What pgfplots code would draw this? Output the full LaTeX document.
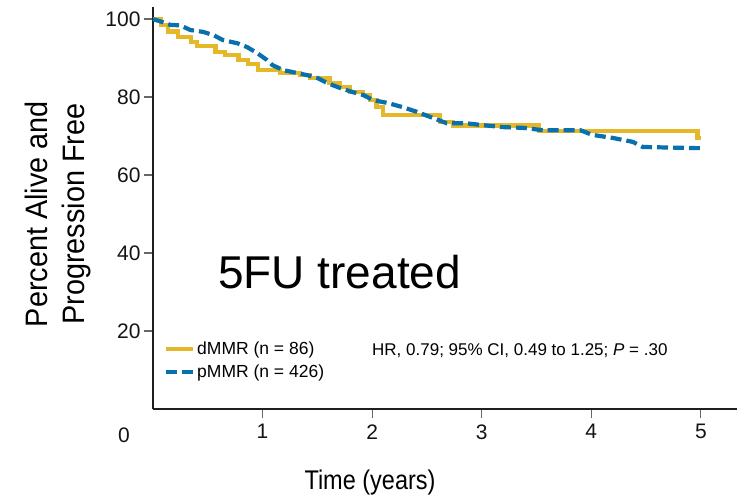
\documentclass[border=0pt]{standalone}
\usepackage{fontspec}
\setmainfont{Liberation Sans}
\usepackage{graphicx}
\usepackage{pgfplots}
\pgfplotsset{compat=1.18}
\definecolor{dgold}{RGB}{228,184,40}
\definecolor{pblue}{RGB}{8,112,172}

\begin{document}
\begin{tikzpicture}
\begin{axis}[
  name=ax,
  scale only axis, width=584pt, height=402pt,
  xmin=0, xmax=5.33, ymin=0, ymax=103.1,
  axis x line=bottom, axis y line=left,
  axis line style={-, line width=1.9pt, color=black!88},
  xtick={1,2,3,4,5}, ytick={20,40,60,80,100},
  tick align=outside, major tick length=9pt,
  tick style={line width=1.2pt, color=black!60},
  /pgf/number format/assume math mode=true,
  ticklabel style={font=\fontsize{21}{21}\selectfont, color=black!92},
  xticklabel style={yshift=-3pt},
  clip=false,
  xlabel={\scalebox{0.87}[1]{Time (years)}},
  xlabel style={at={(axis description cs:0.3716,-0.199)}, anchor=base, font=\fontsize{27}{27}\selectfont, inner sep=0pt},
  ylabel={\scalebox{0.93}[1]{Percent Alive and}\\\scalebox{0.93}[1]{Progression Free}},
  ylabel style={at={(axis description cs:-0.1620,0.485)}, anchor=center, align=center, font=\fontsize{31}{37}\selectfont, rotate=0},
  legend image code/.code={\draw[#1] (0pt,0pt) -- (27pt,0pt);},
  legend cell align=left,
  legend style={at={(axis description cs:0.0185,0.172)}, anchor=north west, draw=none, fill=none, inner sep=0pt, font=\fontsize{17.5}{17.5}\selectfont, row sep=5pt},
]
\addplot[const plot, color=dgold, line width=4.2pt, mark=none] coordinates {
(0,100) (0.07,98.5) (0.14,96.8) (0.23,95.4) (0.35,94.1) (0.40,93.2) (0.57,91.5)
(0.66,90.8) (0.78,89.5) (0.87,88.5) (0.96,87.0) (1.16,86.2) (1.34,85.6) (1.43,84.9)
(1.61,83.6) (1.71,82.6) (1.80,81.3) (1.92,80.5) (1.98,79.2) (2.04,77.4) (2.10,75.3)
(2.62,73.6) (2.74,72.7) (3.52,71.2) (4.97,69.6) (5.0,69.6)
};
\addlegendentry{dMMR (n = 86)}
\addplot[color=pblue, line width=4.2pt, dash pattern=on 11pt off 5pt, mark=none] coordinates {
(0,100) (0.09,99.2) (0.16,98.5) (0.25,98.4) (0.34,97.2) (0.46,96.7) (0.55,95.9) (0.64,94.6)
(0.77,93.8) (0.86,92.8) (0.95,91.3) (1.04,89.5) (1.09,88.2) (1.19,86.9) (1.31,86.2)
(1.41,85.6) (1.50,84.9) (1.59,83.6) (1.71,82.3) (1.82,81.3) (1.92,80.5) (2.01,79.2)
(2.14,78.5) (2.28,77.4) (2.41,76.2) (2.53,74.9) (2.68,73.3) (2.85,73.3) (3.01,72.8)
(3.19,72.3) (3.38,72.1) (3.56,71.5) (3.90,71.5) (4.01,70.3) (4.20,69.5) (4.38,68.5)
(4.47,67.2) (4.97,66.9) (5.0,66.9)
};
\addlegendentry{pMMR (n = 426)}
\node[anchor=base west, inner sep=0pt, font=\fontsize{17}{17}\selectfont] at (axis description cs:0.375,0.1343) {HR, 0.79; 95\% CI, 0.49 to 1.25; \textit{P} = .30};
\node[anchor=base west, inner sep=0pt, font=\fontsize{46}{46}\selectfont] at (axis description cs:0.1113,0.301) {5FU treated};
\node[font=\fontsize{21}{21}\selectfont, color=black!92] at (axis cs:0,0) [xshift=-29pt, yshift=-26pt] {0};
\end{axis}
\pgfresetboundingbox
\path[use as bounding box] ([shift={(-153pt,-87pt)}]ax.south west) rectangle ([shift={(584pt,409pt)}]ax.south west);
\end{tikzpicture}
\end{document}
